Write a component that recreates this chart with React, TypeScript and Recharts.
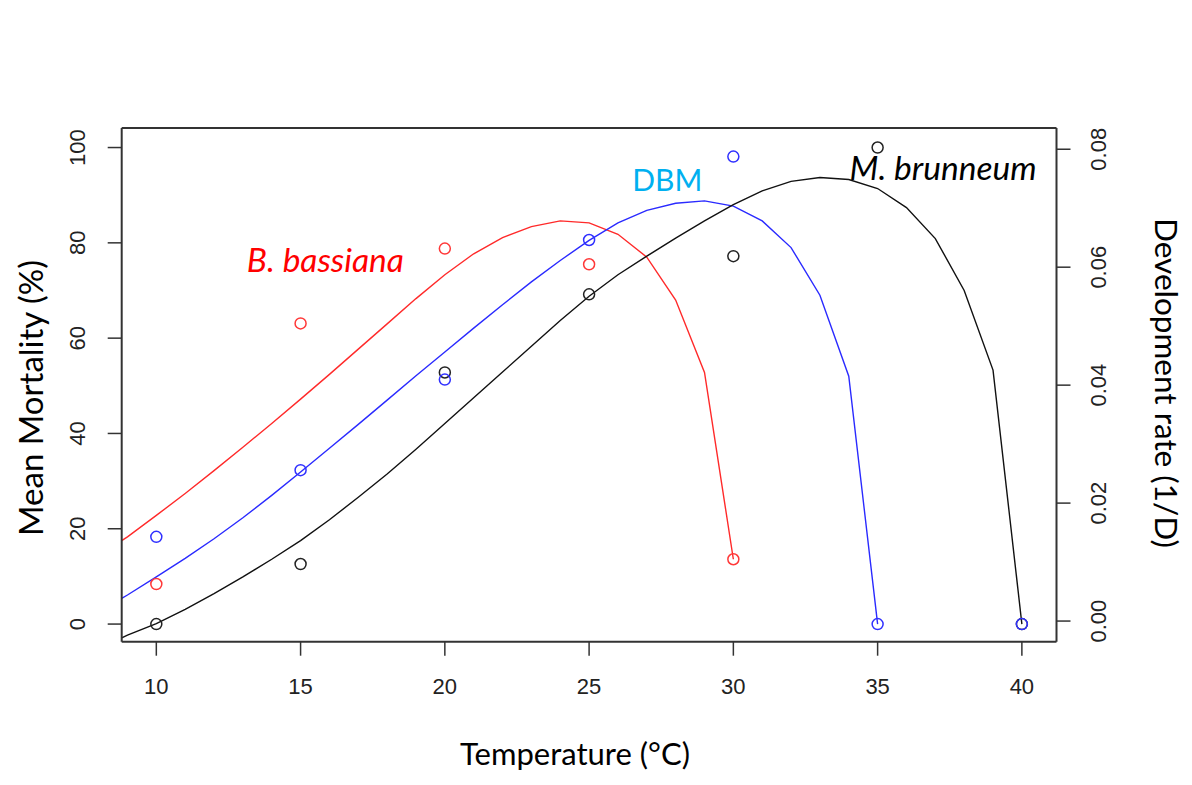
import React from "react";
import {
  ComposedChart,
  Line,
  Scatter,
  XAxis,
  YAxis,
  ReferenceLine,
  Customized,
} from "recharts";

// ---- Data ----
const xTicks = [10, 15, 20, 25, 30, 35, 40];
const leftTicks = [0, 20, 40, 60, 80, 100];
const rightTicks = [0, 0.02, 0.04, 0.06, 0.08];

// fitted curves (temperature, value on mortality scale)
const bassianaCurve = [
  { t: 8.8, v: 17.5 }, { t: 9, v: 18.3 }, { t: 10, v: 22.8 }, { t: 11, v: 27.4 },
  { t: 12, v: 32.2 }, { t: 13, v: 37.1 }, { t: 14, v: 42.1 }, { t: 15, v: 47.2 },
  { t: 16, v: 52.4 }, { t: 17, v: 57.7 }, { t: 18, v: 63 }, { t: 19, v: 68.3 },
  { t: 20, v: 73.3 }, { t: 21, v: 77.7 }, { t: 22, v: 81.1 }, { t: 23, v: 83.4 },
  { t: 24, v: 84.6 }, { t: 25, v: 84.2 }, { t: 26, v: 81.8 }, { t: 27, v: 77 },
  { t: 28, v: 68 }, { t: 29, v: 52.8 }, { t: 30, v: 13.6 },
];
const dbmCurve = [
  { t: 8.8, v: 5.4 }, { t: 9, v: 6.1 }, { t: 10, v: 9.9 }, { t: 11, v: 13.8 },
  { t: 12, v: 17.9 }, { t: 13, v: 22.3 }, { t: 14, v: 27 }, { t: 15, v: 31.9 },
  { t: 16, v: 36.9 }, { t: 17, v: 41.9 }, { t: 18, v: 47 }, { t: 19, v: 52.1 },
  { t: 20, v: 57.1 }, { t: 21, v: 62.1 }, { t: 22, v: 67 }, { t: 23, v: 71.8 },
  { t: 24, v: 76.3 }, { t: 25, v: 80.5 }, { t: 26, v: 84.2 }, { t: 27, v: 86.8 },
  { t: 28, v: 88.3 }, { t: 29, v: 88.8 }, { t: 30, v: 87.7 }, { t: 31, v: 84.6 },
  { t: 32, v: 79 }, { t: 33, v: 69 }, { t: 34, v: 52 }, { t: 35, v: 0 },
];
const brunneumCurve = [
  { t: 8.8, v: -2.9 }, { t: 9, v: -2.3 }, { t: 10, v: 0.1 }, { t: 11, v: 3.1 },
  { t: 12, v: 6.4 }, { t: 13, v: 9.9 }, { t: 14, v: 13.6 }, { t: 15, v: 17.5 },
  { t: 16, v: 21.9 }, { t: 17, v: 26.6 }, { t: 18, v: 31.5 }, { t: 19, v: 36.7 },
  { t: 20, v: 42.1 }, { t: 21, v: 47.5 }, { t: 22, v: 52.9 }, { t: 23, v: 58.3 },
  { t: 24, v: 63.7 }, { t: 25, v: 68.8 }, { t: 26, v: 73.3 }, { t: 27, v: 77.2 },
  { t: 28, v: 81 }, { t: 29, v: 84.6 }, { t: 30, v: 88 }, { t: 31, v: 90.9 },
  { t: 32, v: 92.9 }, { t: 33, v: 93.7 }, { t: 34, v: 93.3 }, { t: 35, v: 91.4 },
  { t: 36, v: 87.4 }, { t: 37, v: 80.9 }, { t: 38, v: 70 }, { t: 39, v: 53.3 },
  { t: 40, v: 0 },
];

// observed mean mortality
const bassianaPoints = [
  { t: 10, v: 8.4 }, { t: 15, v: 63.1 }, { t: 20, v: 78.8 }, { t: 25, v: 75.5 }, { t: 30, v: 13.6 },
];
const dbmPoints = [
  { t: 10, v: 18.3 }, { t: 15, v: 32.3 }, { t: 20, v: 51.3 }, { t: 25, v: 80.6 },
  { t: 30, v: 98.1 }, { t: 35, v: 0 }, { t: 40, v: 0 },
];
const brunneumPoints = [
  { t: 10, v: 0 }, { t: 15, v: 12.6 }, { t: 20, v: 52.8 }, { t: 25, v: 69.2 },
  { t: 30, v: 77.2 }, { t: 35, v: 100 }, { t: 40, v: 0 },
];

// text annotations (anchor in data coordinates)
const bassianaLabel = [{ t: 15.86, v: 73.9 }];
const dbmLabel = [{ t: 27.71, v: 90.9 }];
const brunneumLabel = [{ t: 37.27, v: 93.2 }];

// ---- Styling ----
const W = 1184;
const H = 777;
const AXIS = "#333";
const TICK_FONT = "'Liberation Sans', Arial, sans-serif";
const TITLE_FONT = "Lato, 'Open Sans', sans-serif";
const TICK_STYLE = { fontSize: "22px", fontFamily: TICK_FONT, fill: "#222" };

const circle = (color: string) => (p: any) =>
  <circle cx={p.cx} cy={p.cy} r={5.5} fill="none" stroke={color} strokeWidth={1.5} />;

const annot = (text: string, color: string, size: number, italic: boolean) => (p: any) =>
  <text
    x={p.cx}
    y={p.cy}
    textAnchor="middle"
    fill={color}
    style={{ fontFamily: TITLE_FONT, fontSize: `${size}px`, fontStyle: italic ? "italic" : "normal" }}
  >
    {text}
  </text>;

const XTick = (p: any) => (
  <text x={p.x} y={p.y} textAnchor="middle" dominantBaseline="central" style={TICK_STYLE}>
    {p.payload.value}
  </text>
);
const LeftTick = (p: any) => (
  <text x={p.x} y={p.y} transform={`rotate(-90 ${p.x} ${p.y})`} textAnchor="middle"
    dominantBaseline="central" style={TICK_STYLE}>
    {p.payload.value}
  </text>
);
const RightTick = (p: any) => (
  <text x={p.x} y={p.y} transform={`rotate(-90 ${p.x} ${p.y})`} textAnchor="middle"
    dominantBaseline="central" style={TICK_STYLE}>
    {Number(p.payload.value).toFixed(2)}
  </text>
);

const Titles = () => (
  <g style={{ fontFamily: TITLE_FONT, fill: "#000" }}>
    <text x={567} y={757} textAnchor="middle" style={{ fontSize: "31px" }}>Temperature (°C)</text>
    <text x={35} y={390} textAnchor="middle" transform="rotate(-90 35 390)" style={{ fontSize: "33px" }}>Mean Mortality (%)</text>
    <text x={1147} y={375} textAnchor="middle" transform="rotate(90 1147 375)" style={{ fontSize: "31.5px" }}>Development rate (1/D)</text>
  </g>
);

export default function App() {
  return (
    <ComposedChart
      width={W}
      height={H}
      margin={{ top: 120, right: 75.5, bottom: 103.3, left: 53.7 }}
      style={{ background: "#fff" }}
    >
      <XAxis
        dataKey="t"
        type="number"
        domain={[8.8, 41.2]}
        ticks={xTicks}
        allowDataOverflow
        height={40}
        tickSize={14}
        tickMargin={31}
        axisLine={{ stroke: AXIS, strokeWidth: 2 }}
        tickLine={{ stroke: AXIS, strokeWidth: 1.5 }}
        tick={<XTick />}
        interval={0}
      />
      <YAxis
        yAxisId="left"
        dataKey="v"
        type="number"
        domain={[-3.7, 104.1]}
        ticks={leftTicks}
        allowDataOverflow
        width={60}
        tickSize={14}
        tickMargin={30}
        axisLine={{ stroke: AXIS, strokeWidth: 2 }}
        tickLine={{ stroke: AXIS, strokeWidth: 1.5 }}
        tick={<LeftTick />}
        interval={0}
      />
      <YAxis
        yAxisId="right"
        orientation="right"
        type="number"
        domain={[-0.0035, 0.0836]}
        ticks={rightTicks}
        allowDataOverflow
        width={60}
        tickSize={14}
        tickMargin={28.5}
        axisLine={{ stroke: AXIS, strokeWidth: 2 }}
        tickLine={{ stroke: AXIS, strokeWidth: 1.5 }}
        tick={<RightTick />}
        interval={0}
      />
      <ReferenceLine yAxisId="left" y={104.1} stroke={AXIS} strokeWidth={2} />

      <Line yAxisId="left" data={bassianaCurve} dataKey="v" type="linear" stroke="#ff2a2a"
        strokeWidth={1.4} dot={false} isAnimationActive={false} />
      <Line yAxisId="left" data={dbmCurve} dataKey="v" type="linear" stroke="#2a2aff"
        strokeWidth={1.4} dot={false} isAnimationActive={false} />
      <Line yAxisId="left" data={brunneumCurve} dataKey="v" type="linear" stroke="#111"
        strokeWidth={1.4} dot={false} isAnimationActive={false} />

      <Scatter yAxisId="left" data={brunneumPoints} dataKey="v" shape={circle("#222")} isAnimationActive={false} />
      <Scatter yAxisId="left" data={bassianaPoints} dataKey="v" shape={circle("#ff3838")} isAnimationActive={false} />
      <Scatter yAxisId="left" data={dbmPoints} dataKey="v" shape={circle("#3030ff")} isAnimationActive={false} />

      <Scatter yAxisId="left" data={bassianaLabel} dataKey="v" shape={annot("B. bassiana", "#ff0000", 33.5, true)} isAnimationActive={false} />
      <Scatter yAxisId="left" data={dbmLabel} dataKey="v" shape={annot("DBM", "#00b0f0", 30, false)} isAnimationActive={false} />
      <Scatter yAxisId="left" data={brunneumLabel} dataKey="v" shape={annot("M. brunneum", "#000", 33.5, true)} isAnimationActive={false} />

      <Customized component={<Titles />} />
    </ComposedChart>
  );
}
